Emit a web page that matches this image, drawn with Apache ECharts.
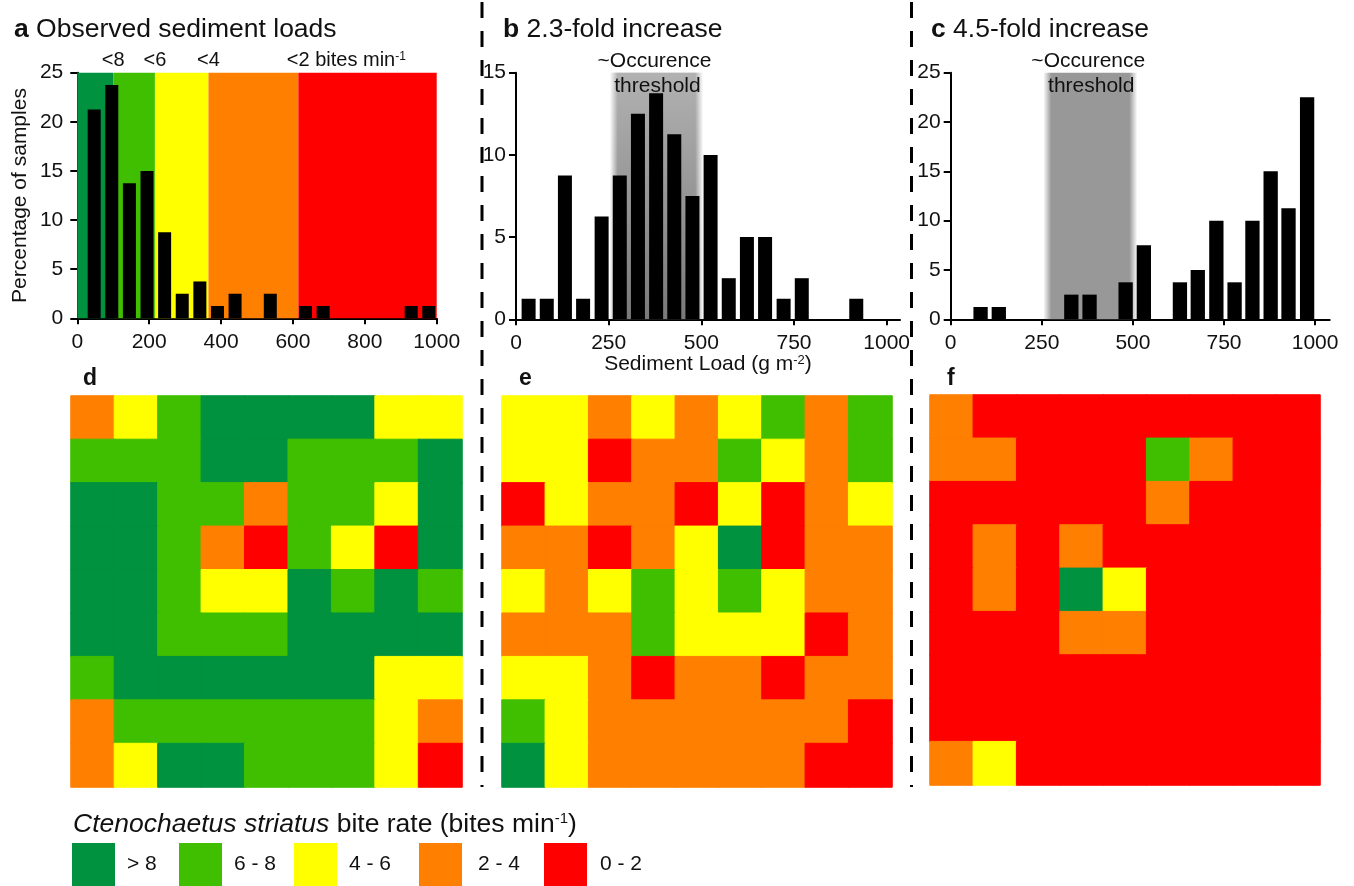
<!DOCTYPE html>
<html><head><meta charset="utf-8">
<script src="https://cdn.jsdelivr.net/npm/echarts@6/dist/echarts.min.js"></script>
<style>html,body{margin:0;padding:0;background:#fff}#c{width:1354px;height:886px}</style>
</head><body><div id="c"></div>
<script>
// ---------------- data ----------------
// histogram bin centres (sediment load, g m-2) and percentage of samples
const aCenters = [47, 96, 145, 194, 243, 292, 341, 390, 439, 537, 635, 684, 929, 978];
const aPercent = [21.25, 23.75, 13.75, 15, 8.75, 2.5, 3.75, 1.25, 2.5, 2.5, 1.25, 1.25, 1.25, 1.25];
const bCenters = [34, 83, 132, 181, 231, 280, 329, 378, 427, 476, 525, 574, 623, 672, 722, 771, 918];
const bPercent = [1.25, 1.25, 8.75, 1.25, 6.25, 8.75, 12.5, 13.75, 11.25, 7.5, 10, 2.5, 5, 5, 1.25, 2.5, 1.25];
const cCenters = [82, 132, 331, 381, 480, 530, 629, 678, 729, 779, 828, 878, 927, 978];
const cPercent = [1.25, 1.25, 2.5, 2.5, 3.75, 7.5, 3.75, 5, 10, 3.75, 10, 15, 11.25, 22.5];

// sediment loads where bite-rate class changes (panel a background)
const biteEdges = [0, 100, 216, 365, 615, 1000];
const biteEdgeLabels = ['<8', '<6', '<4', '<2'];
// occurrence threshold ranges (panels b, c)
const thresholdB = [253, 505];
const thresholdC = [254, 512];

// tick labels
const xTicksA = [0, 200, 400, 600, 800, 1000];
const xTicksBC = [0, 250, 500, 750, 1000];

// bite-rate classes: 5 = >8, 4 = 6-8, 3 = 4-6, 2 = 2-4, 1 = 0-2
const rateClass = [5, 4, 3, 2, 1];
const rateLabels = ['> 8', '6 - 8', '4 - 6', '2 - 4', '0 - 2'];
const rateColors = ['#00923f', '#40bf00', '#ffff00', '#ff7f00', '#ff0000'];

const gridD = [
  [2,3,4,5,5,5,5,3,3],
  [4,4,4,5,5,4,4,4,5],
  [5,5,4,4,2,4,4,3,5],
  [5,5,4,2,1,4,3,1,5],
  [5,5,4,3,3,5,4,5,4],
  [5,5,4,4,4,5,5,5,5],
  [4,5,5,5,5,5,5,3,3],
  [2,4,4,4,4,4,4,3,2],
  [2,3,5,5,4,4,4,3,1]
];
const gridE = [
  [3,3,2,3,2,3,4,2,4],
  [3,3,1,2,2,4,3,2,4],
  [1,3,2,2,1,3,1,2,3],
  [2,2,1,2,3,5,1,2,2],
  [3,2,3,4,3,4,3,2,2],
  [2,2,2,4,3,3,3,1,2],
  [3,3,2,1,2,2,1,2,2],
  [4,3,2,2,2,2,2,2,1],
  [5,3,2,2,2,2,2,1,1]
];
const gridF = [
  [2,1,1,1,1,1,1,1,1],
  [2,2,1,1,1,4,2,1,1],
  [1,1,1,1,1,2,1,1,1],
  [1,2,1,2,1,1,1,1,1],
  [1,2,1,5,3,1,1,1,1],
  [1,1,1,2,2,1,1,1,1],
  [1,1,1,1,1,1,1,1,1],
  [1,1,1,1,1,1,1,1,1],
  [2,3,1,1,1,1,1,1,1]
];
const cellIdx = ['0','1','2','3','4','5','6','7','8'];

// ---------------- chart ----------------
const FONT = '"Liberation Sans", Arial, Helvetica, sans-serif';
const TXT = '#111';
const chart = echarts.init(document.getElementById('c'), null, {renderer: 'canvas'});

const toPairs = (xs, ys) => xs.map((x, i) => [x, ys[i]]);
const classColor = v => rateColors[rateClass.indexOf(v)];
const toCells = g => g.flatMap((row, r) => row.map((v, c) => ({
  value: [c, r, v], itemStyle: {borderColor: classColor(v), borderWidth: 1}
})));

function valX(gi, max, ticks, interval) {
  return {
    gridIndex: gi, type: 'value', min: 0, max: max, interval: interval,
    axisLine: {show: true, onZero: false, lineStyle: {color: '#000', width: 2}},
    axisTick: {show: true, length: 6, lineStyle: {color: '#000', width: 2}, customValues: ticks},
    axisLabel: {fontSize: 21, color: TXT, margin: 13, fontFamily: FONT, customValues: ticks,
      formatter: v => String(v)},
    splitLine: {show: false}
  };
}
function valY(gi, max, margin) {
  return {
    gridIndex: gi, type: 'value', min: 0, max: max, interval: 5,
    axisLine: {show: true, onZero: false, lineStyle: {color: '#000', width: 2}},
    axisTick: {show: true, length: 7, lineStyle: {color: '#000', width: 2}},
    axisLabel: {fontSize: 21, color: TXT, margin: margin, fontFamily: FONT, formatter: v => String(v)},
    splitLine: {show: false}
  };
}
const hidCat = (gi, inv) => ({gridIndex: gi, type: 'category', data: cellIdx, show: false, inverse: !!inv,
  axisLine: {show: false}, axisTick: {show: false}, axisLabel: {show: false}, splitLine: {show: false}});

function bandArea(range, color) {
  return [{xAxis: range[0], itemStyle: {color: color}}, {xAxis: range[1]}];
}
const fadeH = (c) => ({type: 'linear', x: 0, y: 0, x2: 1, y2: 0, colorStops: [
  {offset: 0, color: 'rgba(' + c + ',0)'}, {offset: 0.085, color: 'rgba(' + c + ',1)'},
  {offset: 0.915, color: 'rgba(' + c + ',1)'}, {offset: 1, color: 'rgba(' + c + ',0)'}]});
const whiteTop = {type: 'linear', x: 0, y: 0, x2: 0, y2: 1, colorStops: [
  {offset: 0, color: 'rgba(255,255,255,0.42)'}, {offset: 1, color: 'rgba(255,255,255,0)'}]};

const yA = valY(0, 25, 14);
yA.name = 'Percentage of samples';
yA.nameLocation = 'middle';
yA.nameGap = 47;
yA.nameTextStyle = {fontSize: 21, color: TXT, fontFamily: FONT};

const xB = valX(1, 1036, xTicksBC, 250);
xB.name = 'Sediment Load (g m{sup|-2})';
xB.nameLocation = 'middle';
xB.nameGap = 34;
xB.nameTextStyle = {fontSize: 21, color: TXT, fontFamily: FONT,
  rich: {sup: {fontSize: 13, color: TXT, fontFamily: FONT, verticalAlign: 'top', padding: [0, 0, 8, 0]}}};

const option = {
  animation: false,
  backgroundColor: '#fff',
  textStyle: {fontFamily: FONT},
  grid: [
    {left: 77.3, top: 72.7, width: 359.4, height: 245.6},
    {left: 516, top: 72.7, width: 384, height: 246.6},
    {left: 950.7, top: 72.7, width: 379, height: 246.6},
    {left: 71, top: 396, width: 391, height: 391},
    {left: 502, top: 396, width: 390, height: 391},
    {left: 930, top: 395, width: 390, height: 390}
  ],
  xAxis: [valX(0, 1000, xTicksA, 200), xB, valX(2, 1040, xTicksBC, 250), hidCat(3), hidCat(4), hidCat(5)],
  yAxis: [yA, valY(1, 15, 10), valY(2, 25, 10), hidCat(3, true), hidCat(4, true), hidCat(5, true)],
  visualMap: {
    type: 'piecewise', show: false, dimension: 2, seriesIndex: [3, 4, 5],
    pieces: rateClass.map((v, i) => ({value: v, color: rateColors[i], label: rateLabels[i]}))
  },
  series: [
    {
      type: 'bar', name: 'a', xAxisIndex: 0, yAxisIndex: 0, z: 3,
      data: toPairs(aCenters, aPercent), barWidth: 13, itemStyle: {color: '#000'},
      markArea: {silent: true, z: 1, data: biteEdges.slice(0, -1).map((x0, i) =>
        bandArea([x0, biteEdges[i + 1]], rateColors[i]))}
    },
    {
      type: 'bar', name: 'b', xAxisIndex: 1, yAxisIndex: 1, z: 3,
      data: toPairs(bCenters, bPercent), barWidth: 14, itemStyle: {color: '#000'},
      markArea: {silent: true, z: 1, data: [bandArea(thresholdB, fadeH('122,122,122')), bandArea(thresholdB, whiteTop)]}
    },
    {
      type: 'bar', name: 'c', xAxisIndex: 2, yAxisIndex: 2, z: 3,
      data: toPairs(cCenters, cPercent), barWidth: 14.3, itemStyle: {color: '#000'},
      markArea: {silent: true, z: 1, data: [bandArea(thresholdC, fadeH('152,152,152'))]}
    },
    {type: 'heatmap', name: 'd', xAxisIndex: 3, yAxisIndex: 3, data: toCells(gridD)},
    {type: 'heatmap', name: 'e', xAxisIndex: 4, yAxisIndex: 4, data: toCells(gridE)},
    {type: 'heatmap', name: 'f', xAxisIndex: 5, yAxisIndex: 5, data: toCells(gridF)}
  ]
};
chart.setOption(option);

// ---------------- annotations (positioned from the axes) ----------------
const px = (ax, v) => chart.convertToPixel({xAxisIndex: ax}, v);
const py = (ax, v) => chart.convertToPixel({yAxisIndex: ax}, v);
const T = (x, y, text, opts) => Object.assign({
  type: 'text', x: x, y: y, z: 100, silent: true,
  style: Object.assign({text: text, fill: TXT, font: '21px ' + FONT, align: 'center', verticalAlign: 'middle'}, (opts && opts.style) || {})
}, opts && opts.el || {});

const g = [];
const bold = {b: {fontWeight: 'bold', fontSize: 26.5, fill: TXT, fontFamily: FONT}};
g.push(T(14, 30, '{b|a} Observed sediment loads', {style: {font: '26.5px ' + FONT, align: 'left', rich: bold}}));
g.push(T(503, 30, '{b|b} 2.3-fold increase', {style: {font: '26.5px ' + FONT, align: 'left', rich: bold}}));
g.push(T(931, 30, '{b|c} 4.5-fold increase', {style: {font: '26.5px ' + FONT, align: 'left', rich: bold}}));

// bite-rate class boundaries above panel a
const labY = py(0, 25) - 12;
for (let i = 0; i < 3; i++) {
  g.push(T(px(0, biteEdges[i + 1]), labY, biteEdgeLabels[i], {style: {font: '20px ' + FONT}}));
}
g.push(T(px(0, biteEdges[4]) - 11.5, labY, biteEdgeLabels[3] + ' bites min{sup|-1}', {style: {
  font: '20px ' + FONT, align: 'left',
  rich: {sup: {fontSize: 12, fill: TXT, fontFamily: FONT, verticalAlign: 'top', padding: [0, 0, 6, 0]}}}}));

// occurrence threshold labels
[[1, thresholdB], [2, thresholdC]].forEach(([ax, r]) => {
  const cx = px(ax, (r[0] + r[1]) / 2);
  g.push(T(cx - 2, 61.5, '~Occurence'));
  g.push(T(cx + 1, 86.5, 'threshold'));
});

// heatmap panel letters
g.push(T(83, 379, 'd', {style: {font: 'bold 23px ' + FONT, align: 'left'}}));
g.push(T(519, 379, 'e', {style: {font: 'bold 23px ' + FONT, align: 'left'}}));
g.push(T(947, 379, 'f', {style: {font: 'bold 23px ' + FONT, align: 'left'}}));

// dashed separators
[482, 911.5].forEach(x => g.push({type: 'line', silent: true, z: 50,
  shape: {x1: x, y1: 2, x2: x, y2: 787}, style: {stroke: '#000', lineWidth: 3, lineDash: [16, 13]}}));

// legend
g.push(T(73, 825, '{i|Ctenochaetus striatus} bite rate (bites min{sup|-1})', {style: {
  font: '26.5px ' + FONT, align: 'left',
  rich: {i: {fontStyle: 'italic', fontSize: 26.5, fill: TXT, fontFamily: FONT},
         sup: {fontSize: 15, fill: TXT, fontFamily: FONT, verticalAlign: 'top', padding: [0, 0, 8, 0]}}}}));
const legBoxX = [72, 179, 294, 419, 544];
const legTextX = [127, 234, 349, 478, 600];
rateLabels.forEach((lab, i) => {
  g.push({type: 'rect', silent: true, z: 100, shape: {x: legBoxX[i], y: 843, width: 43, height: 45},
    style: {fill: rateColors[i]}});
  g.push(T(legTextX[i], 864, lab, {style: {font: '21px ' + FONT, align: 'left'}}));
});

chart.setOption({graphic: g});
</script>
</body></html>
